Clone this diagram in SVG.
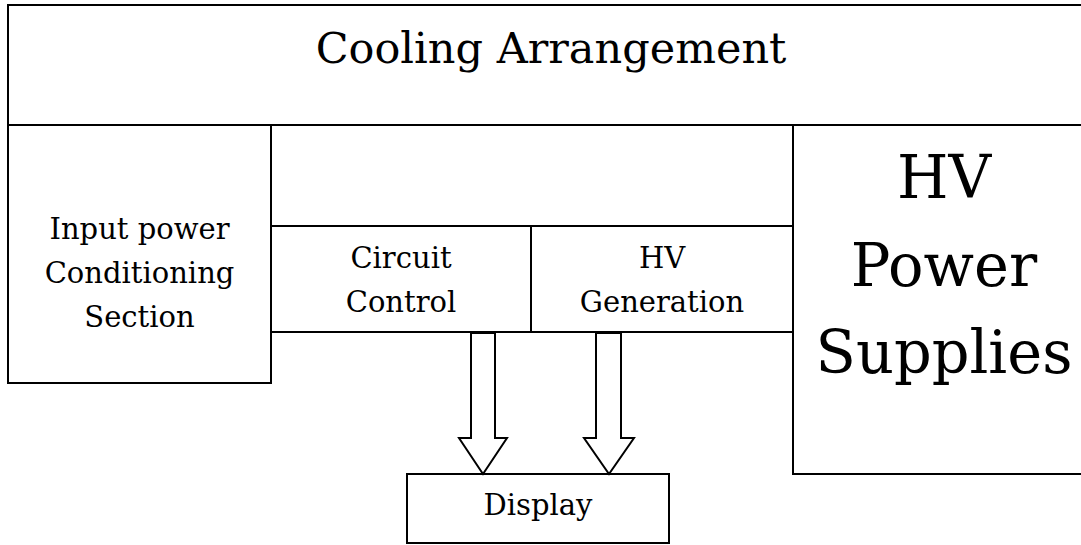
<svg xmlns="http://www.w3.org/2000/svg" width="1081" height="545" viewBox="0 0 1081 545">
<style>
.box{fill:#fff;stroke:#000;stroke-width:2}
.arrow{fill:#fff;stroke:#000;stroke-width:2;stroke-linejoin:miter}
text{font-family:"DejaVu Serif","Liberation Serif",serif;fill:#000;text-anchor:middle}
.t29{font-size:29px}
.t42{font-size:43px}
.t59{font-size:59px}
</style>
<rect width="1081" height="545" fill="#fff"/>
<g id="cooling">
<rect class="box" x="8" y="5" width="1092" height="120"/>
<text class="t42" x="551" y="63">Cooling Arrangement</text>
</g>
<g id="input-power">
<rect class="box" x="8" y="125" width="263" height="258"/>
<text class="t29" x="139.5" y="239">Input power</text>
<text class="t29" x="139.5" y="283">Conditioning</text>
<text class="t29" x="139.5" y="327">Section</text>
</g>
<g id="circuit-control">
<rect class="box" x="271" y="226" width="260" height="106"/>
<text class="t29" x="401" y="268">Circuit</text>
<text class="t29" x="401" y="312">Control</text>
</g>
<g id="hv-generation">
<rect class="box" x="531" y="226" width="262" height="106"/>
<text class="t29" x="662" y="268">HV</text>
<text class="t29" x="662" y="312">Generation</text>
</g>
<g id="hv-power-supplies">
<rect class="box" x="793" y="125" width="307" height="349"/>
<text class="t59" x="944" y="198">HV</text>
<text class="t59" x="944" y="286">Power</text>
<text class="t59" x="944" y="373">Supplies</text>
</g>
<g id="display">
<rect class="box" x="407" y="474" width="262" height="69"/>
<text class="t29" x="538" y="515">Display</text>
</g>
<g id="connectors">
<polygon class="arrow" points="471,333 495,333 495,438 507,438 483,474 459,438 471,438"/>
<polygon class="arrow" points="596,333 621,333 621,438 634,438 609,474 584,438 596,438"/>
</g>
</svg>
